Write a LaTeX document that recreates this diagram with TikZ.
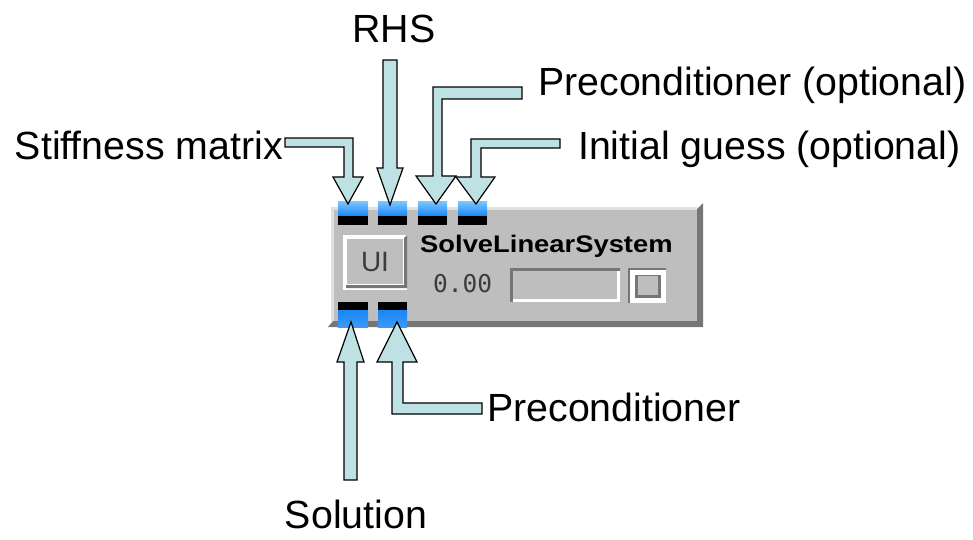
\documentclass[tikz,border=0pt]{standalone}
\usepackage{fontspec}
\setmainfont{Liberation Sans}
\newfontfamily\monofont{DejaVu Sans Mono}
\definecolor{arrowfill}{RGB}{190,225,228}
\definecolor{bodygray}{RGB}{190,190,190}
\definecolor{shadowgray}{RGB}{118,118,118}
\definecolor{lightgray2}{RGB}{224,224,224}
\definecolor{portblue}{RGB}{25,135,245}
\definecolor{portlight}{RGB}{125,200,255}
\definecolor{txtgray}{RGB}{60,60,60}
\tikzset{
  blockarrow/.style={fill=arrowfill, draw=black, line width=1.2pt, line join=miter},
  lbl/.style={font=\fontsize{39.3}{41}\selectfont, inner sep=0pt, text=black},
  porttop/.style={top color=portlight, bottom color=portblue},
}
\begin{document}
\begin{tikzpicture}[x=1pt,y=-1pt]
\useasboundingbox (0,0) rectangle (973,539);

% ---------- module body ----------
\fill[shadowgray] (328,327) -- (333,321) -- (697,321) -- (697,209) -- (703,203) -- (703,327) -- cycle;
\fill[bodygray] (331,207) rectangle (697,321);
\fill[lightgray2] (331,207) rectangle (697,210);
\fill[lightgray2] (331,207) rectangle (334,321);

% top ports
\foreach \xa/\xb/\n in {338/368/p1, 378/407/p2, 418/447/p3, 458/487/p4}{
  \shade[porttop] (\xa,201) rectangle (\xb,216);
  \fill[black] (\xa,216) rectangle (\xb,225);
  \coordinate (\n) at ({(\xa+\xb)/2},201);
}
% bottom ports
\foreach \xa/\xb/\n in {338/368/q1, 378/407/q2}{
  \fill[black] (\xa,302) rectangle (\xb,310);
  \shade[top color=portblue, bottom color=portblue!85!white] (\xa,310) rectangle (\xb,327);
  \coordinate (\n) at ({(\xa+\xb)/2},327);
}

% UI button
\fill[white] (343,235) rectangle (407,290);
\fill[shadowgray] (346,288) -- (407,288) -- (407,235) -- (404,238) -- (404,285) -- (346,285) -- cycle;
\fill[bodygray] (347,239) rectangle (403,284);
\node[inner sep=0pt, text=txtgray, font=\fontsize{28}{30}\selectfont] (ui) at (375,262) {UI};

% title
\node[inner sep=0pt, anchor=base west, font=\bfseries\fontsize{24}{26}\selectfont, text=black] (title) at (420,252)
  {\scalebox{1.14}[1]{SolveLinearSystem}};

% value
\node[inner sep=0pt, anchor=base west, font=\monofont\fontsize{24.5}{26}\selectfont, text=txtgray] (val) at (433,292) {0.00};

% slider field (sunken)
\fill[shadowgray] (510,268) rectangle (620,302);
\fill[white] (513,271) rectangle (620,302);
\fill[bodygray] (513,271) rectangle (617,299);

% small button
\fill[shadowgray] (628,268) rectangle (666,303);
\fill[white] (630,270) rectangle (666,303);
\fill[shadowgray] (635,275) rectangle (661,298);
\fill[bodygray] (638,276) rectangle (658,295);

% ---------- labels ----------
\node[lbl, anchor=base] (rhs) at (394,42) {RHS};
\node[lbl, anchor=base east] (stiff) at (283,159) {Stiffness matrix};
\node[lbl, anchor=base west] (popt) at (538,95) {Preconditioner (optional)};
\node[lbl, anchor=base west] (guess) at (578,159) {Initial guess (optional)};
\node[lbl, anchor=base west] (prec) at (487,421) {Preconditioner};
\node[lbl, anchor=base] (sol) at (356,528) {Solution};

% ---------- block arrows ----------
% Stiffness matrix
\draw[blockarrow] (285,138) -- (353,138) -- (353,177) -- (363,177) -- (348,204) -- (333,177) -- (344,177) -- (344,147) -- (285,147) -- cycle;
% RHS
\draw[blockarrow] (383,60) -- (397,60) -- (397,168) -- (403,168) -- (390,205) -- (377,168) -- (383,168) -- cycle;
% Preconditioner (optional)
\draw[blockarrow] (522,87) -- (433,87) -- (433,176) -- (416,176) -- (436,204) -- (456,176) -- (442,176) -- (442,99) -- (522,99) -- cycle;
% Initial guess (optional)
\draw[blockarrow] (560,139) -- (471,139) -- (471,177) -- (456,177) -- (476,204) -- (495,177) -- (481,177) -- (481,148) -- (560,148) -- cycle;
% Solution
\draw[blockarrow] (344,480) -- (357,480) -- (357,362) -- (364,362) -- (351,322) -- (337,362) -- (344,362) -- cycle;
% Preconditioner
\draw[blockarrow] (482,403) -- (482,414) -- (392,414) -- (392,362) -- (377,362) -- (397,322) -- (417,362) -- (403,362) -- (403,403) -- cycle;

\end{tikzpicture}
\end{document}
